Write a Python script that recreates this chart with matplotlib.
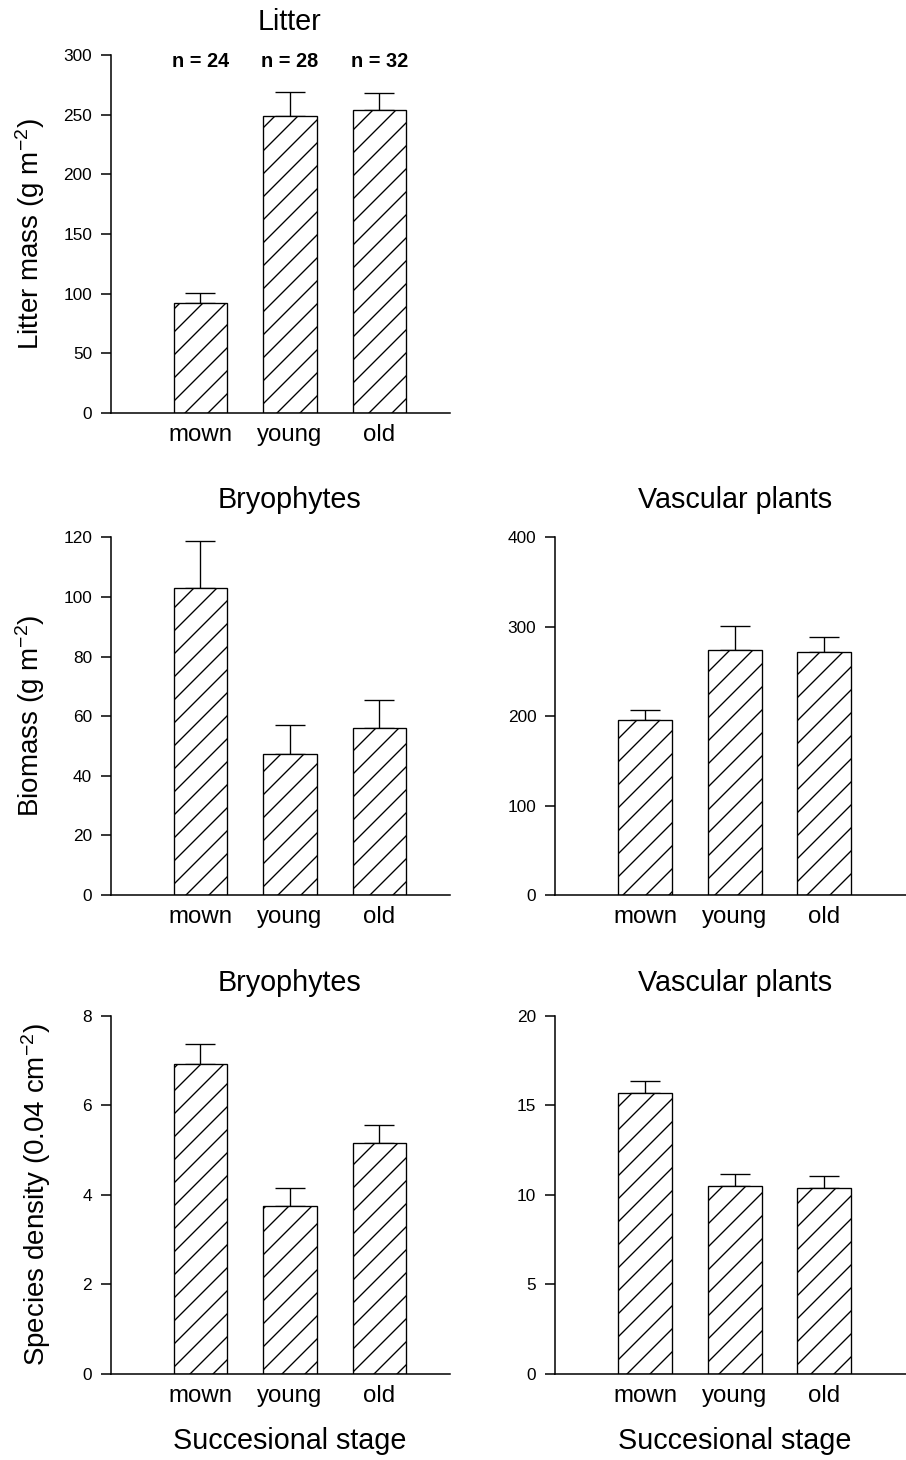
import matplotlib
matplotlib.use("Agg")
import matplotlib.pyplot as plt
import numpy as np

# ---------------------------------------------------------------------------
# Data
# ---------------------------------------------------------------------------
stages = ["mown", "young", "old"]
n_plots = [24, 28, 32]

litter_mean = [92, 248.6, 253.6]
litter_top = [100.8, 269, 268.4]

bryo_mass_mean = [102.9, 47.3, 55.9]
bryo_mass_top = [118.6, 57.0, 65.4]

vasc_mass_mean = [196, 274, 272]
vasc_mass_top = [207.3, 301, 289]

bryo_dens_mean = [6.92, 3.76, 5.16]
bryo_dens_top = [7.38, 4.15, 5.57]

vasc_dens_mean = [15.71, 10.51, 10.40]
vasc_dens_top = [16.37, 11.17, 11.04]

DPI = 138
W, H = 906, 1460

plt.rcParams["font.family"] = ["Liberation Sans", "DejaVu Sans"]
plt.rcParams["mathtext.fontset"] = "custom"
plt.rcParams["mathtext.rm"] = "Liberation Sans"
plt.rcParams["mathtext.default"] = "regular"
plt.rcParams["hatch.linewidth"] = 0.7
plt.rcParams["axes.linewidth"] = 0.8


def px_axes(fig, left, top, right, bottom):
    return fig.add_axes([left / W, 1 - bottom / H, (right - left) / W, (bottom - top) / H])


def bar_panel(ax, mean, top, ymax, step, xmax, title, title_off, ylabel=None, ylab_x=-0.239):
    mean = np.asarray(mean)
    err = np.asarray(top) - mean
    x = np.arange(len(stages))
    ax.bar(x, mean, width=0.6, color="white", edgecolor="black", linewidth=0.7,
           hatch="//", zorder=2)
    ax.errorbar(x, mean, yerr=[np.zeros_like(err), err], fmt="none", ecolor="black",
                elinewidth=0.7, capsize=7.8, capthick=0.7, zorder=1)
    ax.set_xlim(-1, xmax)
    ax.set_ylim(0, ymax)
    ax.set_yticks(np.arange(0, ymax + step / 2, step))
    ax.set_xticks(x)
    ax.set_xticklabels(stages, fontsize=12.5)
    ax.tick_params(axis="x", length=0, pad=5.7)
    ax.tick_params(axis="y", direction="out", length=5.2, width=0.8, pad=4.7, labelsize=9)
    for s in ("top", "right"):
        ax.spines[s].set_visible(False)
    ax.annotate(title, xy=(1, 1), xycoords=("data", "axes fraction"), xytext=(0, title_off),
                textcoords="offset points", ha="center", va="center", fontsize=15)
    if ylabel:
        ax.set_ylabel(ylabel, fontsize=14.5, va="center")
        ax.yaxis.set_label_coords(ylab_x, 0.5)


fig = plt.figure(figsize=(W / DPI, H / DPI), dpi=DPI)

# Litter
ax1 = px_axes(fig, 111, 55, 450, 413)
bar_panel(ax1, litter_mean, litter_top, 300, 50, 2.79, "Litter", 17.2,
          ylabel="Litter mass (g m$^{-2}$)")
for i, n in enumerate(n_plots):
    ax1.annotate(f"n = {n}", xy=(i, 1), xycoords=("data", "axes fraction"), xytext=(0, -3.2),
                 textcoords="offset points", ha="center", va="center",
                 fontsize=10.4, fontweight="bold")

# Biomass
ax2 = px_axes(fig, 111, 537.3, 450, 895)
bar_panel(ax2, bryo_mass_mean, bryo_mass_top, 120, 20, 2.79, "Bryophytes", 19.3,
          ylabel="Biomass (g m$^{-2}$)")
ax3 = px_axes(fig, 555.3, 537.3, 906, 895)
bar_panel(ax3, vasc_mass_mean, vasc_mass_top, 400, 100, 2.91, "Vascular plants", 19.3)

# Species density
ax4 = px_axes(fig, 111, 1016, 450, 1373.7)
bar_panel(ax4, bryo_dens_mean, bryo_dens_top, 8, 2, 2.79, "Bryophytes", 17.2,
          ylabel="Species density (0.04 cm$^{-2}$)", ylab_x=-0.221)
ax5 = px_axes(fig, 555.3, 1016, 906, 1373.7)
bar_panel(ax5, vasc_dens_mean, vasc_dens_top, 20, 5, 2.91, "Vascular plants", 17.2)

for ax in (ax4, ax5):
    ax.annotate("Succesional stage", xy=(1, 0), xycoords=("data", "axes fraction"),
                xytext=(0, -35), textcoords="offset points", ha="center", va="center",
                fontsize=15)

fig.savefig("out.png", dpi=DPI)
